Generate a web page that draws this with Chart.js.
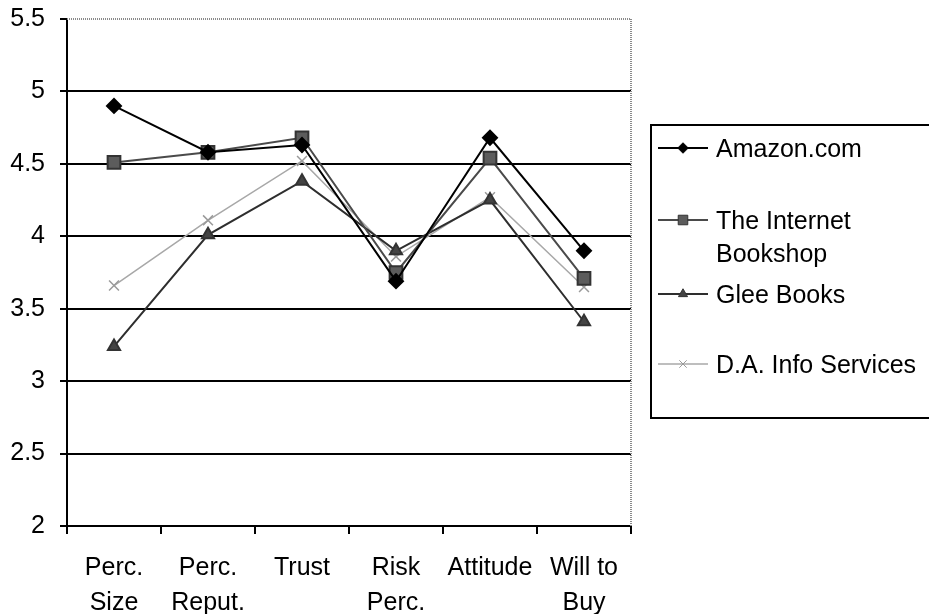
<!DOCTYPE html>
<html>
<head>
<meta charset="utf-8">
<script src="https://cdn.jsdelivr.net/npm/chart.js@4/dist/chart.umd.min.js"></script>
<style>
  html, body { margin: 0; padding: 0; background: #fff; }
  canvas { display: block; }
</style>
</head>
<body>
<canvas id="chart" width="929" height="614"></canvas>
<script>
// categories (two-line tick labels)
const categories = [['Perc.', 'Size'], ['Perc.', 'Reput.'], ['Trust'], ['Risk', 'Perc.'], ['Attitude'], ['Will to', 'Buy']];

// series values
const amazon   = [4.90, 4.58, 4.63, 3.69, 4.68, 3.90];
const internet = [4.51, 4.58, 4.68, 3.75, 4.54, 3.71];
const glee     = [3.24, 4.01, 4.38, 3.90, 4.25, 3.41];
const daInfo   = [3.66, 4.11, 4.52, 3.86, 4.27, 3.65];

const seriesNames = [['Amazon.com'], ['The Internet', 'Bookshop'], ['Glee Books'], ['D.A. Info Services']];

// y tick labels
const yTickLabels = ['2', '2.5', '3', '3.5', '4', '4.5', '5', '5.5'];

const FONT = "'Liberation Sans', Arial, sans-serif";

// plot frame (dotted grey top/right) + boxed legend
const frameAndLegend = {
  id: 'frameAndLegend',
  afterDraw(chart) {
    const ctx = chart.ctx;
    const a = chart.chartArea;
    ctx.save();
    // grey dotted border on top and right
    ctx.strokeStyle = '#8a8a8a';
    ctx.lineWidth = 2;
    ctx.setLineDash([1, 1]);
    ctx.beginPath();
    ctx.moveTo(a.left, a.top);
    ctx.lineTo(a.right, a.top);
    ctx.lineTo(a.right, a.bottom);
    ctx.stroke();
    ctx.setLineDash([]);

    // legend box
    ctx.strokeStyle = '#000';
    ctx.lineWidth = 2;
    ctx.strokeRect(651, 125, 300, 293);

    const rowY = [148, 220, 294, 364];
    ctx.font = '25px ' + FONT;
    ctx.textBaseline = 'middle';
    ctx.textAlign = 'left';
    chart.data.datasets.forEach((ds, i) => {
      const y = rowY[i];
      ctx.strokeStyle = ds.borderColor;
      ctx.lineWidth = ds.borderWidth;
      ctx.beginPath();
      ctx.moveTo(658, y);
      ctx.lineTo(708, y);
      ctx.stroke();
      ctx.fillStyle = ds.pointBackgroundColor;
      ctx.strokeStyle = ds.pointBorderColor;
      ctx.lineWidth = 1;
      Chart.helpers.drawPoint(ctx, {
        pointStyle: ds.pointStyle,
        radius: ds.pointRadius * 0.75,
        rotation: 0,
        borderWidth: 1
      }, 683, y);
      ctx.fillStyle = '#000';
      seriesNames[i].forEach((line, j) => {
        ctx.fillText(line, 716, y + 2 + j * 33);
      });
    });
    ctx.restore();
  }
};

new Chart(document.getElementById('chart').getContext('2d'), {
  type: 'line',
  data: {
    labels: categories,
    datasets: [
      {
        label: 'Amazon.com',
        data: amazon,
        borderColor: '#000000',
        borderWidth: 2,
        pointStyle: 'rectRot',
        pointRadius: 7,
        pointBackgroundColor: '#000000',
        pointBorderColor: '#000000'
      },
      {
        label: 'The Internet Bookshop',
        data: internet,
        borderColor: '#4a4a4a',
        borderWidth: 2,
        pointStyle: 'rect',
        pointRadius: 9,
        pointBackgroundColor: '#5c5c5c',
        pointBorderColor: '#333333'
      },
      {
        label: 'Glee Books',
        data: glee,
        borderColor: '#2e2e2e',
        borderWidth: 2,
        pointStyle: 'triangle',
        pointRadius: 7,
        pointBackgroundColor: '#444444',
        pointBorderColor: '#333333'
      },
      {
        label: 'D.A. Info Services',
        data: daInfo,
        borderColor: '#a8a8a8',
        borderWidth: 1.5,
        pointStyle: 'crossRot',
        pointRadius: 7,
        pointBackgroundColor: '#9a9a9a',
        pointBorderColor: '#9a9a9a'
      }
    ]
  },
  options: {
    responsive: false,
    animation: false,
    devicePixelRatio: 1,
    layout: { padding: { top: 19, right: 298, bottom: 0, left: 0 } },
    elements: {
      line: { tension: 0 },
      point: { borderWidth: 1.5, hoverRadius: 7 }
    },
    plugins: {
      legend: { display: false },
      tooltip: { enabled: false }
    },
    scales: {
      x: {
        offset: true,
        afterFit(scale) { scale.height = 88; },
        border: { display: true, color: '#000', width: 2 },
        grid: {
          offset: true,
          drawOnChartArea: false,
          drawTicks: true,
          tickLength: 8,
          color: '#000',
          lineWidth: 2
        },
        ticks: {
          color: '#000',
          padding: 16,
          maxRotation: 0,
          autoSkip: false,
          font: { family: FONT, size: 25, lineHeight: 1.42 }
        }
      },
      y: {
        min: 2,
        max: 5.5,
        afterFit(scale) {
          scale.width = 67;
          scale.paddingTop = 0;
          scale.paddingBottom = 0;
        },
        border: { display: true, color: '#000', width: 2 },
        grid: {
          color: ctx => (ctx.tick && ctx.tick.value >= 5.5) ? 'rgba(0,0,0,0)' : '#000',
          tickColor: '#000',
          lineWidth: 2,
          tickLength: 7
        },
        ticks: {
          stepSize: 0.5,
          color: '#000',
          padding: 15,
          font: { family: FONT, size: 25 },
          callback: (value) => yTickLabels[Math.round((value - 2) * 2)]
        }
      }
    }
  },
  plugins: [frameAndLegend]
});
</script>
</body>
</html>
